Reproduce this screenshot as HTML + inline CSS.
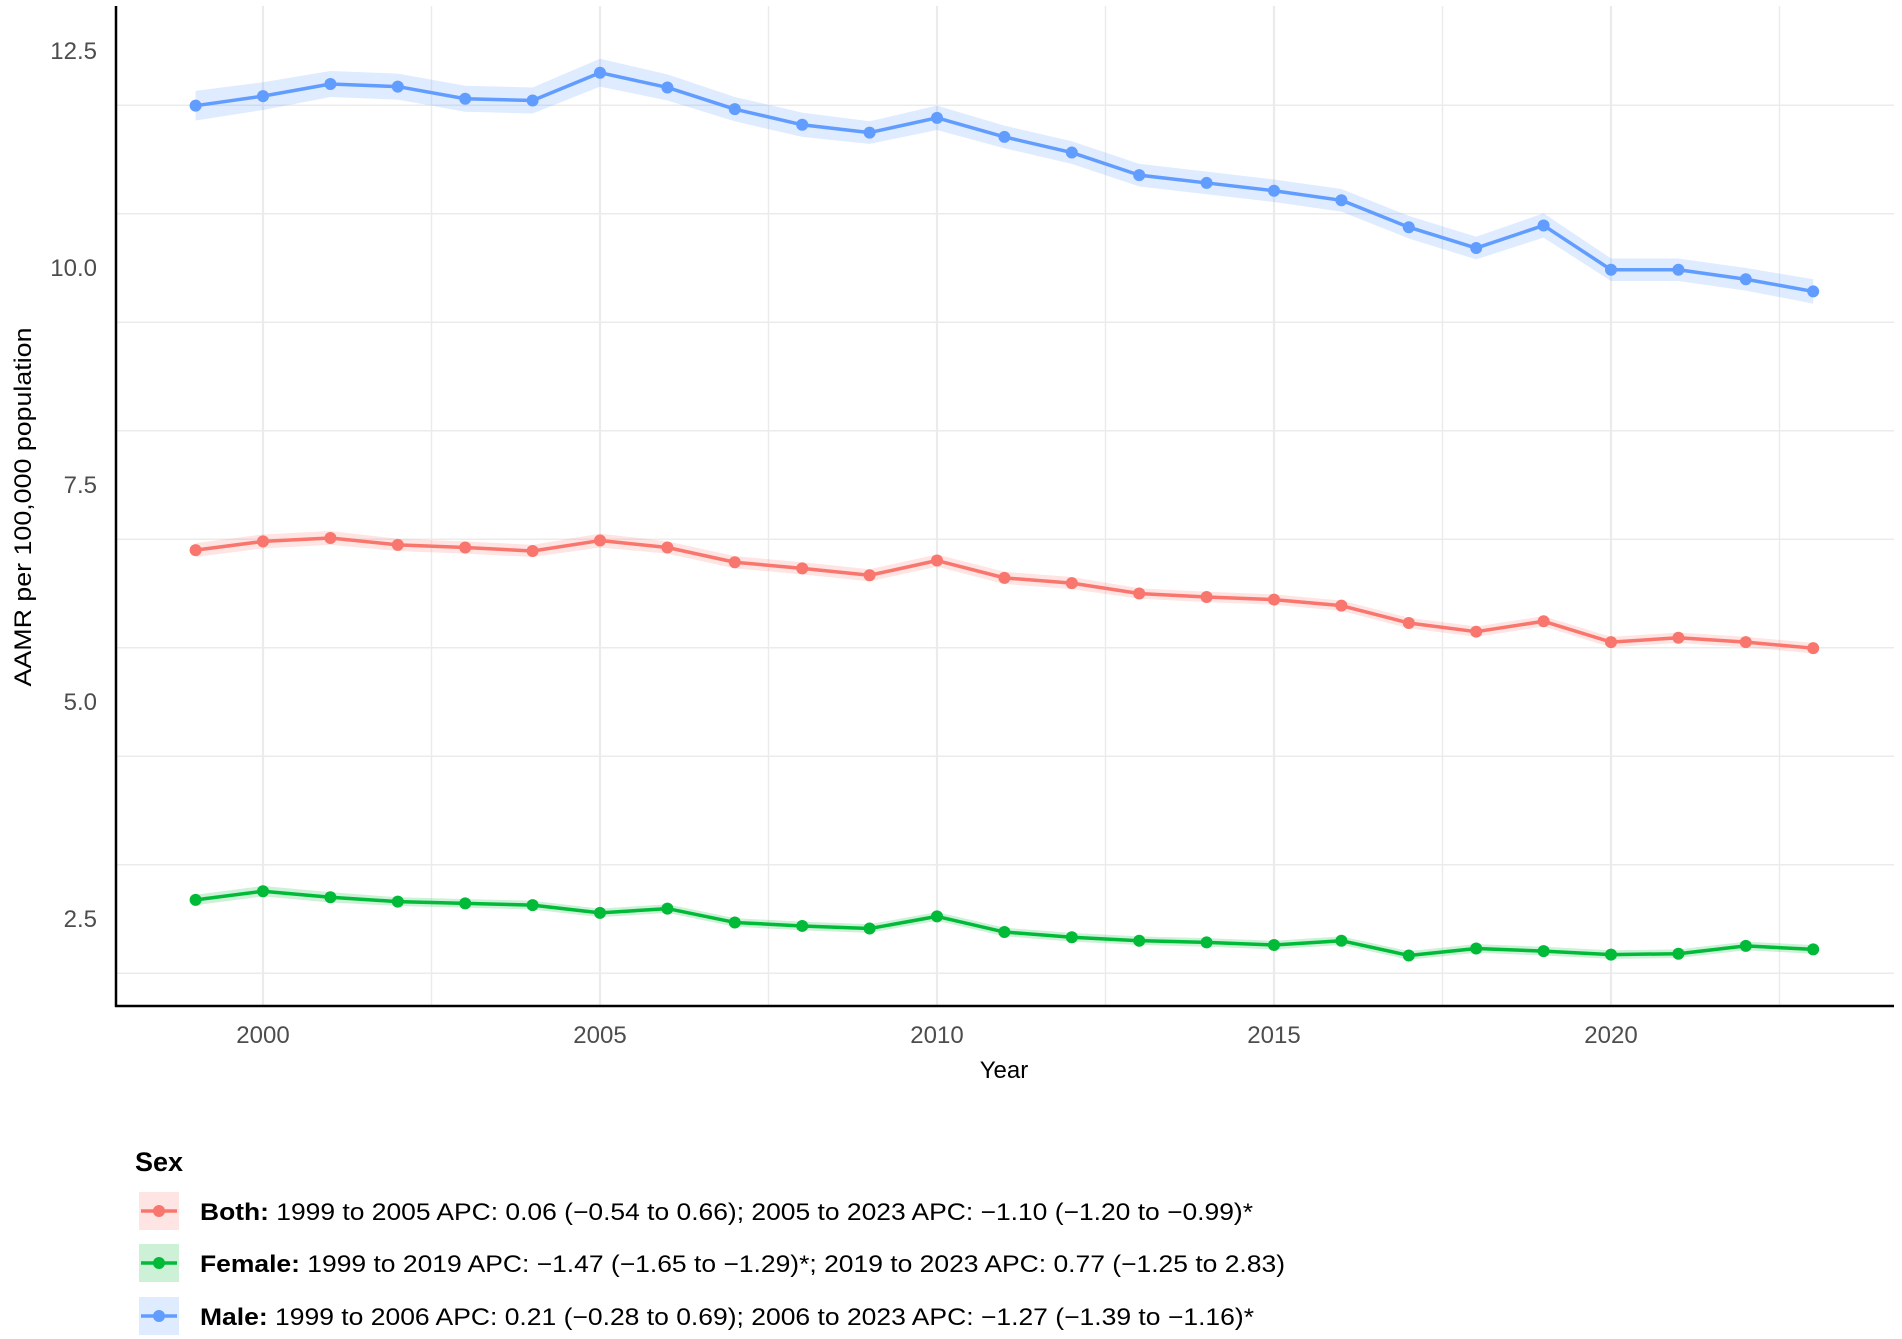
<!DOCTYPE html>
<html><head><meta charset="utf-8"><style>
html,body{margin:0;padding:0;background:#fff;}
svg{display:block;font-family:"Liberation Sans",Arial,sans-serif;}
</style></head><body>
<svg id="chart" width="1902" height="1339" viewBox="0 0 1902 1339" xmlns="http://www.w3.org/2000/svg">
<g id="grid"></g>
<g id="bands"></g>
<g id="series"></g>
<line x1="116" y1="6" x2="116" y2="1007" stroke="#000" stroke-width="2.5"/>
<line x1="115" y1="1006" x2="1894" y2="1006" stroke="#000" stroke-width="2.5"/>
<g id="yticks"></g>
<g id="xticks"></g>
<text x="1004" y="1078" font-size="24" text-anchor="middle" fill="#000">Year</text>
<text transform="translate(31,507) rotate(-90)" font-size="24" text-anchor="middle" fill="#000" textLength="359" lengthAdjust="spacingAndGlyphs">AAMR per 100,000 population</text>
<g>
<text x="135" y="1171" font-size="27" font-weight="bold" fill="#000">Sex</text>
<g id="legend-keys"></g>
<text x="200" y="1220" font-size="24" fill="#000" textLength="1053" lengthAdjust="spacingAndGlyphs"><tspan font-weight="bold">Both:</tspan> 1999 to 2005 APC: 0.06 (−0.54 to 0.66); 2005 to 2023 APC: −1.10 (−1.20 to −0.99)*</text>
<text x="200" y="1272" font-size="24" fill="#000" textLength="1085" lengthAdjust="spacingAndGlyphs"><tspan font-weight="bold">Female:</tspan> 1999 to 2019 APC: −1.47 (−1.65 to −1.29)*; 2019 to 2023 APC: 0.77 (−1.25 to 2.83)</text>
<text x="200" y="1325" font-size="24" fill="#000" textLength="1054" lengthAdjust="spacingAndGlyphs"><tspan font-weight="bold">Male:</tspan> 1999 to 2006 APC: 0.21 (−0.28 to 0.69); 2006 to 2023 APC: −1.27 (−1.39 to −1.16)*</text>
</g>
</svg>
<script>
const years = [1999,2000,2001,2002,2003,2004,2005,2006,2007,2008,2009,2010,2011,2012,2013,2014,2015,2016,2017,2018,2019,2020,2021,2022,2023];
const maleValues = [11.87,11.98,12.12,12.09,11.95,11.93,12.25,12.08,11.83,11.65,11.56,11.73,11.51,11.33,11.07,10.98,10.89,10.78,10.47,10.23,10.49,9.98,9.98,9.87,9.73];
const bothValues = [6.75,6.85,6.89,6.81,6.78,6.74,6.86,6.78,6.61,6.54,6.46,6.63,6.43,6.37,6.25,6.21,6.18,6.11,5.91,5.81,5.93,5.69,5.74,5.69,5.62];
const femaleValues = [2.72,2.82,2.75,2.70,2.68,2.66,2.57,2.62,2.46,2.42,2.39,2.53,2.35,2.29,2.25,2.23,2.20,2.25,2.08,2.16,2.13,2.09,2.10,2.19,2.15];
const maleHalfWidth = [0.17,0.16,0.15,0.15,0.15,0.15,0.16,0.15,0.14,0.14,0.13,0.14,0.13,0.13,0.13,0.13,0.13,0.13,0.13,0.13,0.14,0.13,0.13,0.13,0.14];
const bothHalfWidth = [0.08,0.08,0.08,0.07,0.07,0.07,0.08,0.07,0.07,0.07,0.07,0.07,0.07,0.07,0.06,0.06,0.06,0.06,0.06,0.06,0.06,0.06,0.06,0.06,0.06];
const femaleHalfWidth = [0.06,0.06,0.06,0.05,0.05,0.05,0.05,0.05,0.05,0.05,0.05,0.05,0.05,0.05,0.05,0.05,0.05,0.05,0.05,0.05,0.05,0.05,0.05,0.05,0.05];
const yTickValues = [2.5,5.0,7.5,10.0,12.5];
const yTickLabels = ["2.5","5.0","7.5","10.0","12.5"];
const xTickValues = [2000,2005,2010,2015,2020];
const xTickLabels = ["2000","2005","2010","2015","2020"];

const NS = "http://www.w3.org/2000/svg";
function xScale(yr){ return 263 + (yr-2000)*67.4; }
function yScale(v){ return 51 + (12.5-v)*86.8; }
function mk(tag, attrs, parent){ const e=document.createElementNS(NS,tag); for(const k in attrs) e.setAttribute(k,attrs[k]); parent.appendChild(e); return e; }

const grid = document.getElementById('grid');
for(let v=1.875; v<=13; v+=1.25){
  const major = Math.abs((v/2.5)-Math.round(v/2.5))<1e-6;
  const l = mk('line',{x1:116,x2:1894,y1:yScale(v),y2:yScale(v),stroke:'#ebebeb','stroke-width':major?2.2:1.4},grid);
  
  
}
for(let yr=2000; yr<=2025; yr+=2.5){
  const major = yr%5===0;
  const l = mk('line',{x1:xScale(yr),x2:xScale(yr),y1:6,y2:1006,stroke:'#ebebeb','stroke-width':major?2.2:1.4},grid);
  
  
}

const yt = document.getElementById('yticks');
yTickValues.forEach((v,i)=>{
  const t = mk('text',{x:97,y:yScale(v)+8,'font-size':24,'text-anchor':'end',fill:'#4d4d4d'},yt);
  t.textContent = yTickLabels[i];
  
  
});
const xt = document.getElementById('xticks');
xTickValues.forEach((v,i)=>{
  const t = mk('text',{x:xScale(v),y:1043,'font-size':24,'text-anchor':'middle',fill:'#4d4d4d'},xt);
  t.textContent = xTickLabels[i];
  
  
});

const seriesList = [
  {name:'both', vals:bothValues, hw:bothHalfWidth, color:'#F8766D', fill:'#F8766D'},
  {name:'female', vals:femaleValues, hw:femaleHalfWidth, color:'#00BA38', fill:'#00BA38'},
  {name:'male', vals:maleValues, hw:maleHalfWidth, color:'#619CFF', fill:'#619CFF'}
];
const bands = document.getElementById('bands');
const sg = document.getElementById('series');
seriesList.forEach(s=>{
  const up = years.map((y,i)=>xScale(y)+','+yScale(s.vals[i]+s.hw[i]));
  const lo = years.map((y,i)=>xScale(y)+','+yScale(s.vals[i]-s.hw[i])).reverse();
  const b = mk('polygon',{points:up.concat(lo).join(' '),fill:s.fill,'fill-opacity':0.2},bands);
  
  
  const pl = mk('polyline',{points:years.map((y,i)=>xScale(y)+','+yScale(s.vals[i])).join(' '),fill:'none',stroke:s.color,'stroke-width':3.5,'stroke-linejoin':'round'},sg);
  
  
  years.forEach((y,i)=>{
    const c = mk('circle',{cx:xScale(y),cy:yScale(s.vals[i]),r:6,fill:s.color},sg);
    
    
  });
});

const lk = document.getElementById('legend-keys');
const keyY = [1211,1263,1316];
seriesList.forEach((s,i)=>{
  const g = mk('g',{},lk);
  
  
  mk('rect',{x:139,y:keyY[i]-19,width:40,height:38,fill:s.fill,'fill-opacity':0.2},g);
  mk('line',{x1:141,x2:177,y1:keyY[i],y2:keyY[i],stroke:s.color,'stroke-width':3.5},g);
  mk('circle',{cx:159,cy:keyY[i],r:6,fill:s.color},g);
});
</script>
</body></html>
